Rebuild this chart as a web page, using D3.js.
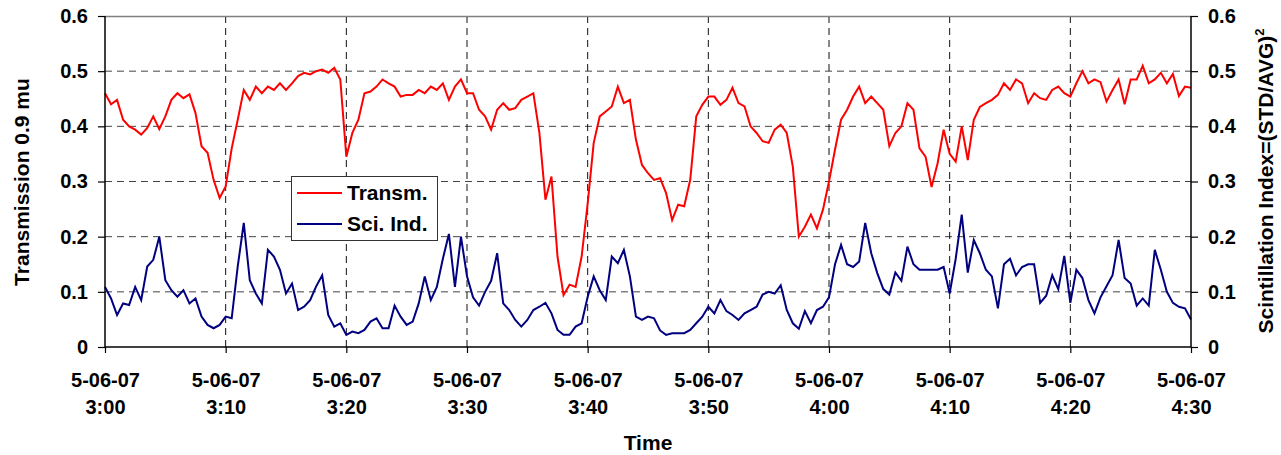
<!DOCTYPE html>
<html>
<head>
<meta charset="utf-8">
<script src="https://cdn.jsdelivr.net/npm/d3@7"></script>
<style>
  body { margin: 0; background: #fff; }
  text { font-family: "Liberation Sans", Arial, sans-serif; font-weight: bold; }
</style>
</head>
<body>
<div id="chart"></div>
<script>
// Samples every 30 s from 3:00 to 4:30
var startTime = new Date(2007, 4, 6, 3, 0, 0);
var stepSeconds = 30;

var transm = [
  .460,.440,.448,.412,.400,.394,.385,.397,.418,.395,.418,.448,.460,.451,.458,.424,.364,.352,.303,.270,.291,.360,.412,.466,.448,.472,.460,.472,.466,.478,.466,
  .478,.491,.497,.494,.500,.503,.497,.506,.485,.345,.388,.412,.460,.463,.472,.485,.478,.472,.454,.457,.457,.466,.460,.472,.466,.478,.448,.472,.485,.460,
  .460,.430,.418,.394,.430,.442,.430,.433,.448,.454,.460,.388,.267,.309,.164,.094,.113,.109,.164,.260,.370,.418,.427,.436,.472,.442,.448,.376,.330,.315,
  .303,.306,.279,.230,.258,.255,.303,.418,.439,.454,.454,.439,.448,.470,.442,.436,.400,.388,.373,.370,.394,.403,.388,.327,.200,.218,.240,.215,.249,.300,
  .358,.412,.430,.454,.472,.442,.454,.442,.430,.364,.388,.400,.442,.430,.360,.345,.290,.333,.394,.350,.336,.400,.339,.412,.435,.442,.448,.457,.478,.466,
  .485,.478,.442,.460,.451,.448,.466,.472,.460,.454,.478,.500,.478,.485,.480,.445,.466,.485,.440,.485,.485,.510,.478,.485,.497,.478,.495,.455,.472,.470
];

var sciInd = [
  .109,.088,.058,.079,.076,.109,.085,.146,.158,.200,.121,.103,.091,.103,.079,.088,.055,.040,.034,.040,.055,.052,.146,.225,.121,.097,.079,.176,.164,.140,.097,
  .115,.067,.073,.085,.110,.130,.058,.037,.043,.022,.028,.025,.031,.046,.052,.034,.034,.075,.055,.040,.046,.079,.128,.085,.109,.160,.205,.109,.200,.128,
  .090,.075,.100,.120,.170,.079,.067,.049,.037,.049,.067,.073,.080,.061,.031,.022,.022,.037,.043,.091,.128,.103,.085,.164,.152,.176,.128,.055,.049,.055,
  .052,.030,.022,.025,.025,.025,.031,.043,.055,.073,.061,.085,.065,.058,.049,.061,.067,.073,.095,.100,.097,.112,.067,.043,.033,.065,.043,.067,.073,.090,
  .150,.185,.150,.145,.155,.225,.170,.134,.105,.095,.135,.120,.182,.150,.140,.140,.140,.140,.145,.097,.160,.240,.135,.194,.170,.140,.128,.070,.150,.160,
  .130,.145,.150,.150,.080,.093,.130,.105,.165,.080,.140,.125,.085,.061,.090,.110,.130,.194,.125,.115,.075,.088,.075,.176,.140,.100,.080,.073,.070,.050
];

var yTicks = [0, 0.1, 0.2, 0.3, 0.4, 0.5, 0.6];
var seriesNames = ["Transm.", "Sci. Ind."];
var seriesColors = ["#ff0000", "#000080"];

var width = 1281, height = 455;
var margin = { top: 16, left: 105 };
var w = 1191 - margin.left;
var h = 347 - margin.top;

var svg = d3.select("#chart").append("svg")
  .attr("width", width)
  .attr("height", height);

var g = svg.append("g")
  .attr("transform", "translate(" + margin.left + "," + margin.top + ")");

var endTime = new Date(startTime.getTime() + 90 * 60000);
var x = d3.scaleTime().domain([startTime, endTime]).range([0, w]);
var y = d3.scaleLinear().domain([0, 0.6]).range([h, 0]);
var y2 = d3.scaleLinear().domain([0, 0.6]).range([h, 0]);

function timeAt(i) {
  return new Date(startTime.getTime() + i * stepSeconds * 1000);
}

var xTicks = d3.timeMinute.every(10).range(startTime, new Date(endTime.getTime() + 1));

// grid
g.selectAll(".hgrid").data(yTicks.slice(1, 6)).enter().append("line")
  .attr("x1", 0).attr("x2", w)
  .attr("y1", function(d) { return y(d); }).attr("y2", function(d) { return y(d); })
  .attr("stroke", "#444").attr("stroke-width", 1).attr("stroke-dasharray", "7,5");

g.selectAll(".vgrid").data(xTicks.slice(1, xTicks.length - 1)).enter().append("line")
  .attr("x1", function(d) { return x(d); }).attr("x2", function(d) { return x(d); })
  .attr("y1", 0).attr("y2", h)
  .attr("stroke", "#111").attr("stroke-width", 1).attr("stroke-dasharray", "7,5");

// top border
g.append("line").attr("x1", 0).attr("x2", w).attr("y1", 0.5).attr("y2", 0.5)
  .attr("stroke", "#808080").attr("stroke-width", 1.5);

// lines
var lineT = d3.line().x(function(d, i) { return x(timeAt(i)); }).y(function(d) { return y(d); });
var lineS = d3.line().x(function(d, i) { return x(timeAt(i)); }).y(function(d) { return y2(d); });

g.append("path").datum(transm).attr("d", lineT)
  .attr("fill", "none").attr("stroke", seriesColors[0]).attr("stroke-width", 2);
g.append("path").datum(sciInd).attr("d", lineS)
  .attr("fill", "none").attr("stroke", seriesColors[1]).attr("stroke-width", 2);

// axes
var fmt = d3.timeFormat("%-H:%M");
var xAxis = g.append("g").attr("transform", "translate(0," + h + ")")
  .call(d3.axisBottom(x).tickValues(xTicks).tickSize(6).tickFormat(""));
xAxis.selectAll(".tick").each(function(d) {
  var t = d3.select(this).append("text")
    .attr("fill", "#000").attr("font-size", "20px").attr("text-anchor", "middle");
  t.append("tspan").attr("x", 0).attr("y", 40).text("5-06-07");
  t.append("tspan").attr("x", 0).attr("y", 67).text(fmt(d));
});

var yAxis = g.append("g")
  .call(d3.axisLeft(y).tickValues(yTicks).tickSize(7).tickPadding(10)
    .tickFormat(function(d) { return d === 0 ? "0" : d3.format(".1f")(d); }));
var y2Axis = g.append("g").attr("transform", "translate(" + w + ",0)")
  .call(d3.axisRight(y2).tickValues(yTicks).tickSize(7).tickPadding(10)
    .tickFormat(function(d) { return d === 0 ? "0" : d3.format(".1f")(d); }));

[xAxis, yAxis, y2Axis].forEach(function(a) {
  a.select(".domain").attr("stroke", "#000").attr("stroke-width", 1.5);
  a.selectAll(".tick line").attr("stroke", "#000").attr("stroke-width", 1.2);
  a.selectAll(".tick text").attr("font-size", "20px").attr("fill", "#000");
});
xAxis.select(".domain").attr("d", "M0,0H" + w);
yAxis.select(".domain").attr("d", "M0,0V" + h);
y2Axis.select(".domain").attr("d", "M0,0V" + h);

// axis titles
svg.append("text").attr("x", 648).attr("y", 450).attr("text-anchor", "middle")
  .attr("font-size", "21px").text("Time");

svg.append("text").attr("transform", "translate(29,182) rotate(-90)")
  .attr("text-anchor", "middle").attr("font-size", "21px").text("Transmission 0.9 mu");

var rt = svg.append("text").attr("transform", "translate(1273,181) rotate(-90)")
  .attr("text-anchor", "middle").attr("font-size", "21px");
rt.append("tspan").text("Scintillation Index=(STD/AVG)");
rt.append("tspan").attr("dy", -9).attr("font-size", "13px").text("2");

// legend
var lg = svg.append("g").attr("transform", "translate(291,176)");
lg.append("rect").attr("x", 0.5).attr("y", 0.5).attr("width", 146).attr("height", 64)
  .attr("fill", "#fff").attr("stroke", "#333").attr("stroke-width", 1);
seriesNames.forEach(function(name, i) {
  var yy = 17 + i * 31;
  lg.append("line").attr("x1", 6).attr("x2", 51).attr("y1", yy).attr("y2", yy)
    .attr("stroke", seriesColors[i]).attr("stroke-width", 2);
  lg.append("text").attr("x", 56).attr("y", yy + 7).attr("font-size", "21px").text(name);
});
</script>
</body>
</html>
